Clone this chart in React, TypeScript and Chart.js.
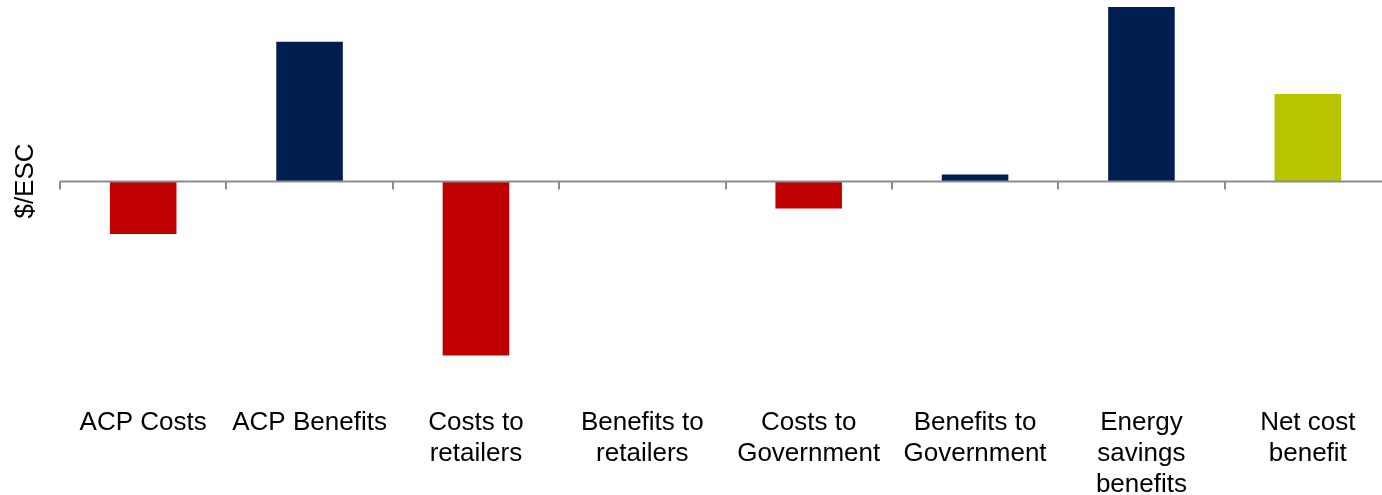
import React, { useEffect, useRef } from "react";
import { Chart, registerables } from "chart.js";

Chart.register(...registerables);

const categories: string[][] = [
  ["ACP Costs"],
  ["ACP Benefits"],
  ["Costs to", "retailers"],
  ["Benefits to", "retailers"],
  ["Costs to", "Government"],
  ["Benefits to", "Government"],
  ["Energy", "savings", "benefits"],
  ["Net cost", "benefit"],
];

const values: number[] = [-15.2, 40, -50.1, 0, -7.9, 1.9, 50, 25];

const barColors: string[] = [
  "#C00000",
  "#001E50",
  "#C00000",
  "#C00000",
  "#C00000",
  "#001E50",
  "#001E50",
  "#B9C400",
];

const yTitle = "$/ESC";
const yMin = -60;
const yMax = 52;

const FONT = "'Liberation Sans', Arial, sans-serif";

const zeroAxisPlugin = {
  id: "zeroAxis",
  afterDatasetsDraw(chart: any) {
    const { ctx, chartArea, scales } = chart;
    const y0 = Math.round(scales.y.getPixelForValue(0)) + 0.5;
    const x = scales.x;
    const n = categories.length;
    const step = (chartArea.right - chartArea.left) / n;
    ctx.save();
    ctx.strokeStyle = "#8C8C8C";
    ctx.lineWidth = 2;
    ctx.beginPath();
    ctx.moveTo(chartArea.left, y0);
    ctx.lineTo(chartArea.right, y0);
    ctx.stroke();
    for (let i = 0; i <= n; i++) {
      const px = Math.round(x.getPixelForValue(0) - step / 2 + i * step);
      ctx.beginPath();
      ctx.moveTo(px, y0);
      ctx.lineTo(px, y0 + 8);
      ctx.stroke();
    }
    ctx.restore();
  },
  afterDraw(chart: any) {
    const { ctx } = chart;
    ctx.save();
    ctx.translate(26, 181);
    ctx.rotate(-Math.PI / 2);
    ctx.fillStyle = "#000";
    ctx.font = `26px ${FONT}`;
    ctx.textAlign = "center";
    ctx.textBaseline = "middle";
    ctx.fillText(yTitle, 0, 0);
    ctx.restore();
  },
};

export default function App() {
  const canvasRef = useRef<HTMLCanvasElement | null>(null);

  useEffect(() => {
    if (!canvasRef.current) return;
    const chart = new Chart(canvasRef.current, {
      type: "bar",
      data: {
        labels: categories,
        datasets: [
          {
            data: values,
            backgroundColor: barColors,
            borderWidth: 0,
            barPercentage: 0.4,
            categoryPercentage: 1,
          },
        ],
      },
      options: {
        responsive: false,
        animation: false,
        layout: { padding: { left: 60, right: 0, top: 0, bottom: 0 } },
        plugins: {
          legend: { display: false },
          tooltip: { enabled: false },
        },
        scales: {
          x: {
            grid: { display: false, drawTicks: false },
            border: { display: false },
            ticks: {
              autoSkip: false,
              maxRotation: 0,
              minRotation: 0,
              padding: 17,
              color: "#000",
              font: { family: FONT, size: 26 },
            },
            afterFit: (scale: any) => {
              scale.height = 105;
            },
          },
          y: {
            display: false,
            min: yMin,
            max: yMax,
          },
        },
      },
      plugins: [zeroAxisPlugin],
    });
    return () => chart.destroy();
  }, []);

  return (
    <div
      style={{
        position: "absolute",
        left: 0,
        top: 0,
        width: 1382,
        height: 495,
        overflow: "hidden",
        background: "#fff",
      }}
    >
      <canvas ref={canvasRef} width={1391} height={495} style={{ display: "block" }} />
    </div>
  );
}
